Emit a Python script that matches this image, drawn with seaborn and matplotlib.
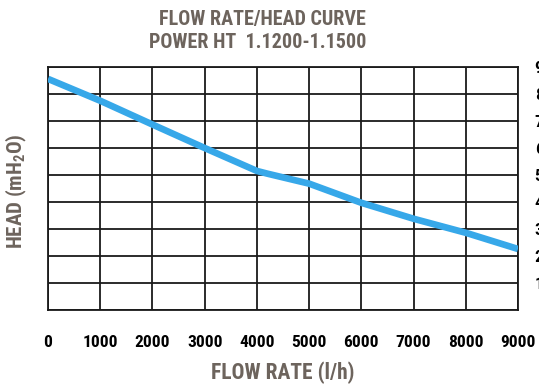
import matplotlib
matplotlib.use("Agg")
import matplotlib.pyplot as plt
import seaborn as sns
import pandas as pd

# curve
flow_rate = [0, 1000, 2000, 3000, 4000, 4200, 5000, 6000, 7000, 8000, 9000]
head = [8.56, 7.75, 6.87, 6.0, 5.15, 5.05, 4.68, 3.97, 3.38, 2.86, 2.26]
x_ticks = [0, 1000, 2000, 3000, 4000, 5000, 6000, 7000, 8000, 9000]
y_ticks = [1, 2, 3, 4, 5, 6, 7, 8, 9]

title_lines = ["FLOW RATE/HEAD CURVE", "POWER HT  1.1200-1.1500"]

sns.set_style("white")
font = "Roboto Condensed"
plt.rcParams["font.family"] = [font, "DejaVu Sans"]
plt.rcParams["mathtext.fontset"] = "custom"
plt.rcParams["mathtext.rm"] = font + ":bold"
plt.rcParams["mathtext.bf"] = font + ":bold"

title_color = "#6d645d"

df = pd.DataFrame({"flow": flow_rate, "head": head})

fig = plt.figure(figsize=(5.39, 3.85), dpi=100)
ax = fig.add_axes([48 / 539, 75 / 385, 470 / 539, 243 / 385])

sns.lineplot(data=df, x="flow", y="head", ax=ax, color="#37a8e9", linewidth=4.8,
             solid_capstyle="butt", zorder=3)

ax.set_xlim(0, 9000)
ax.set_ylim(0, 9)
ax.set_xticks(x_ticks)
ax.set_yticks(range(0, 10))
ax.set_yticklabels([""] + [str(v) for v in y_ticks])
ax.yaxis.tick_right()
ax.grid(True, color="#1a1a1a", linewidth=1.3)
for s in ax.spines.values():
    s.set_color("#1a1a1a")
    s.set_linewidth(1.3)
ax.tick_params(axis="x", length=0, pad=18, labelsize=12.5, labelcolor="black")
ax.tick_params(axis="y", length=0, pad=12, labelsize=12.5, labelcolor="black")
for lbl in ax.get_xticklabels() + ax.get_yticklabels():
    lbl.set_fontweight("bold")

ax.set_xlabel("FLOW RATE (l/h)", fontsize=15.5, fontweight="bold", color=title_color, labelpad=8)
ax.set_ylabel(r"HEAD (mH$_\mathbf{2}$O)", fontsize=15, fontweight="bold", color=title_color)
ax.yaxis.set_label_position("left")
ax.yaxis.set_label_coords(-0.04, 0.49)

fig.text(0.487, 1 - 20 / 385, title_lines[0], ha="center", va="center", fontsize=14.5,
         fontweight="bold", color=title_color)
fig.text(0.479, 1 - 43 / 385, title_lines[1], ha="center", va="center", fontsize=14.5,
         fontweight="bold", color=title_color)

fig.savefig("out.png", dpi=100)
